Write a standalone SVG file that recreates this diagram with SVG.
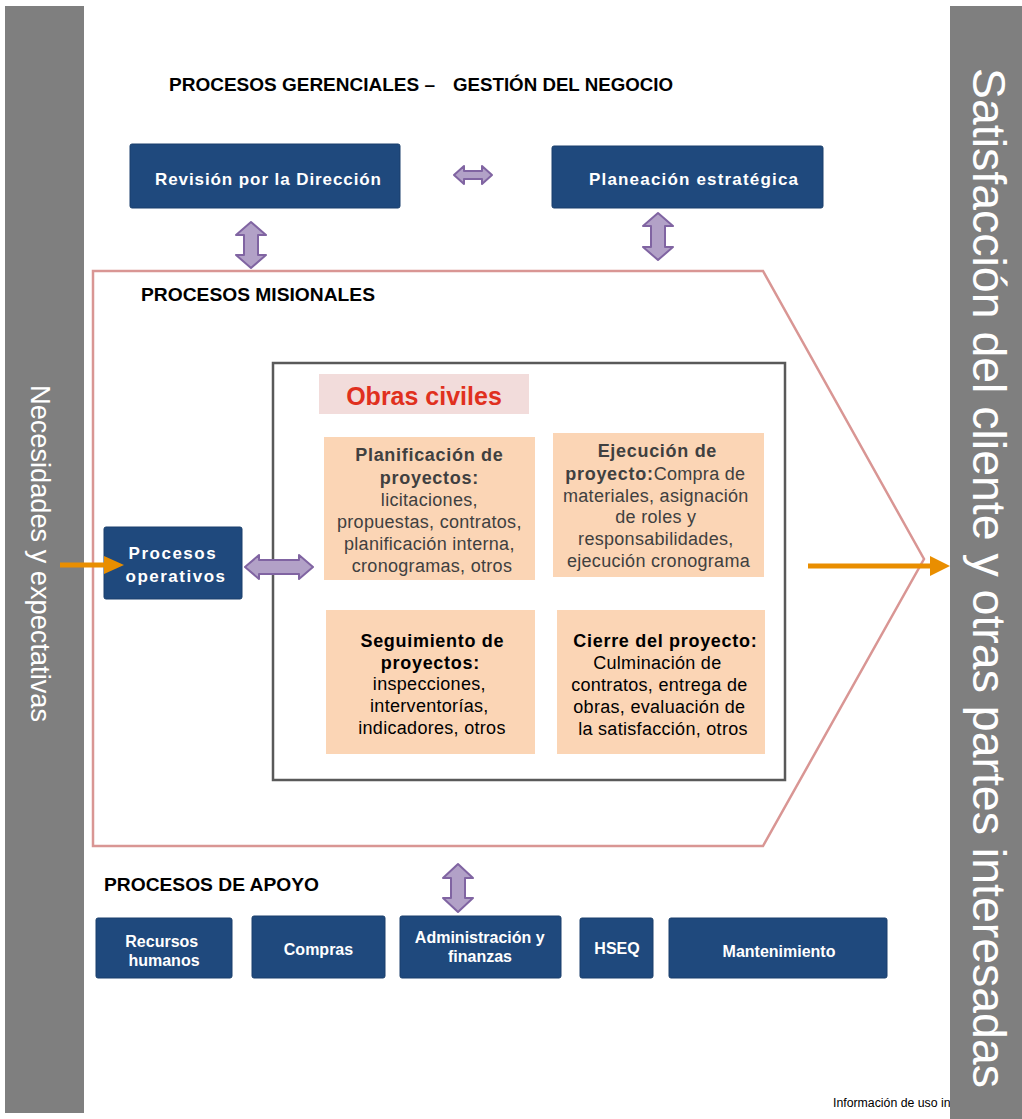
<svg xmlns="http://www.w3.org/2000/svg" width="1022" height="1119" viewBox="0 0 1022 1119">
<defs>
<style>
.bar{fill:#7f7f7f}
.bartxt{font-family:"Liberation Sans",Arial,sans-serif;fill:#ffffff;text-anchor:middle}
.head{font-family:"Liberation Sans",Arial,sans-serif;font-weight:bold;font-size:19px;fill:#000}
.blue{fill:#1f497d;stroke:#1a3f6c;stroke-width:1}
.btxt{font-family:"Liberation Sans",Arial,sans-serif;font-weight:bold;fill:#fff;text-anchor:middle}
.org{fill:#fbd5b5}
.otxt{font-family:"Liberation Sans",Arial,sans-serif;font-size:18px;text-anchor:middle;letter-spacing:0.3px}
.ob{font-weight:bold;letter-spacing:0.7px}
.purple{fill:#b2a1c7;stroke:#8064a2;stroke-width:2;stroke-linejoin:round}
.orange{stroke:#e98e00;stroke-width:5;fill:none}
.ohead{fill:#e98e00}
</style>
</defs>
<rect width="1022" height="1119" fill="#ffffff"/>

<text x="833" y="1107" font-family="Liberation Sans, Arial, sans-serif" font-size="12.3" fill="#000">Información de uso in</text>

<g id="left-bar">
<rect class="bar" x="5" y="6" width="79" height="1107"/>
<text class="bartxt" font-size="27" transform="translate(31,553.5) rotate(90)" textLength="337" lengthAdjust="spacingAndGlyphs">Necesidades y expectativas</text>
</g>
<g id="right-bar">
<rect class="bar" x="950" y="6" width="72" height="1113"/>
<text class="bartxt" font-size="46" transform="translate(973,578) rotate(90)" textLength="1020" lengthAdjust="spacingAndGlyphs">Satisfacción del cliente y otras partes interesadas</text>
</g>

<g id="misionales-frame">
<path d="M93,271 L763,271 L924,559 L763,846 L93,846 Z" fill="none" stroke="#d99694" stroke-width="2.5"/>
</g>

<text class="head" x="169" y="91" textLength="266" lengthAdjust="spacingAndGlyphs">PROCESOS GERENCIALES –</text>
<text class="head" x="453" y="91" textLength="220" lengthAdjust="spacingAndGlyphs">GESTIÓN DEL NEGOCIO</text>
<text class="head" x="141" y="301" textLength="234" lengthAdjust="spacingAndGlyphs">PROCESOS MISIONALES</text>
<text class="head" x="104" y="891" textLength="215" lengthAdjust="spacingAndGlyphs">PROCESOS DE APOYO</text>

<g id="obras-frame">
<rect x="273" y="363" width="512" height="417" fill="none" stroke="#595959" stroke-width="2.5"/>
</g>

<g id="obras-civiles">
<rect x="319" y="374" width="210" height="40" fill="#f2dcdb"/>
<text x="424" y="405" font-family="Liberation Sans, Arial, sans-serif" font-weight="bold" font-size="25" fill="#e0301e" text-anchor="middle">Obras civiles</text>
</g>

<g id="planificacion">
<rect class="org" x="324" y="437" width="211" height="143"/>
<text class="otxt" fill="#404040">
<tspan class="ob" x="432" y="461">Planificación de</tspan>
<tspan class="ob" x="432" y="483.5">proyectos:</tspan>
<tspan x="432" y="505.5">licitaciones,</tspan>
<tspan x="432" y="528">propuestas, contratos,</tspan>
<tspan x="432" y="550">planificación interna,</tspan>
<tspan x="432" y="572">cronogramas, otros</tspan>
</text>
</g>

<g id="ejecucion">
<rect class="org" x="553" y="433" width="211" height="144"/>
<text class="otxt" fill="#404040">
<tspan class="ob" x="660" y="457">Ejecución de</tspan>
<tspan x="658" y="480"><tspan class="ob">proyecto:</tspan>Compra de</tspan>
<tspan x="658.5" y="502">materiales, asignación</tspan>
<tspan x="658.5" y="523">de roles y</tspan>
<tspan x="658.5" y="545">responsabilidades,</tspan>
<tspan x="658.5" y="567">ejecución cronograma</tspan>
</text>
</g>

<g id="seguimiento">
<rect class="org" x="326" y="610" width="209" height="144"/>
<text class="otxt" fill="#000">
<tspan class="ob" x="435" y="647">Seguimiento de</tspan>
<tspan class="ob" x="433" y="669">proyectos:</tspan>
<tspan x="432" y="690">inspecciones,</tspan>
<tspan x="432" y="712">interventorías,</tspan>
<tspan x="432" y="734">indicadores, otros</tspan>
</text>
</g>

<g id="cierre">
<rect class="org" x="557" y="610" width="208" height="144"/>
<text class="otxt" fill="#000">
<tspan class="ob" x="668" y="647">Cierre del proyecto:</tspan>
<tspan x="660" y="669">Culminación de</tspan>
<tspan x="662" y="691">contratos, entrega de</tspan>
<tspan x="662" y="713">obras, evaluación de</tspan>
<tspan x="663" y="735">la satisfacción, otros</tspan>
</text>
</g>

<g id="revision">
<rect class="blue" x="130" y="144" width="270" height="64" rx="2"/>
<text class="btxt" x="268" y="185" font-size="17" textLength="226" lengthAdjust="spacing">Revisión por la Dirección</text>
</g>
<g id="planeacion">
<rect class="blue" x="552" y="146" width="271" height="62" rx="2"/>
<text class="btxt" x="693.5" y="185" font-size="17" textLength="209" lengthAdjust="spacing">Planeación estratégica</text>
</g>
<g id="procesos-operativos">
<rect class="blue" x="104" y="527" width="138" height="72" rx="2"/>
<text class="btxt" font-size="17" letter-spacing="1.5">
<tspan x="176" y="559">Procesos</tspan>
<tspan x="176" y="582">operativos</tspan>
</text>
</g>
<g id="recursos-humanos">
<rect class="blue" x="96" y="918" width="136" height="60" rx="2"/>
<text class="btxt" font-size="16">
<tspan x="164" y="947">Recursos</tspan>
<tspan x="164" y="966">humanos</tspan>
</text>
</g>
<g id="compras">
<rect class="blue" x="252" y="916" width="133" height="62" rx="2"/>
<text class="btxt" font-size="16" x="318.5" y="955">Compras</text>
</g>
<g id="administracion">
<rect class="blue" x="400" y="916" width="161" height="62" rx="2"/>
<text class="btxt" font-size="16">
<tspan x="482" y="943">Administración y</tspan>
<tspan x="480" y="962">finanzas</tspan>
</text>
</g>
<g id="hseq">
<rect class="blue" x="580" y="918" width="73" height="60" rx="2"/>
<text class="btxt" font-size="16" x="617" y="954">HSEQ</text>
</g>
<g id="mantenimiento">
<rect class="blue" x="669" y="918" width="218" height="60" rx="2"/>
<text class="btxt" font-size="16" x="779" y="957">Mantenimiento</text>
</g>

<g id="connectors">
<path class="purple" d="M454,175 L464,166 L464,171 L482,171 L482,166 L492,175 L482,184 L482,179 L464,179 L464,184 Z"/>
<path class="purple" d="M251,222 L266,235 L258,235 L258,255 L266,255 L251,268 L236,255 L244,255 L244,235 L236,235 Z"/>
<path class="purple" d="M658,213 L673,226 L665,226 L665,247 L673,247 L658,260 L643,247 L651,247 L651,226 L643,226 Z"/>
<path class="purple" d="M245,567 L259,555 L259,560 L299,560 L299,555 L313,567 L299,579 L299,574 L259,574 L259,579 Z"/>
<path class="purple" d="M458,864 L473,878 L465,878 L465,898 L473,898 L458,912 L443,898 L451,898 L451,878 L443,878 Z"/>
<line class="orange" x1="60" y1="565" x2="108" y2="565"/>
<polygon class="ohead" points="104,556 124,565 104,574"/>
<line class="orange" x1="808" y1="566" x2="934" y2="566"/>
<polygon class="ohead" points="930,556 950,566 930,576"/>
</g>
</svg>
